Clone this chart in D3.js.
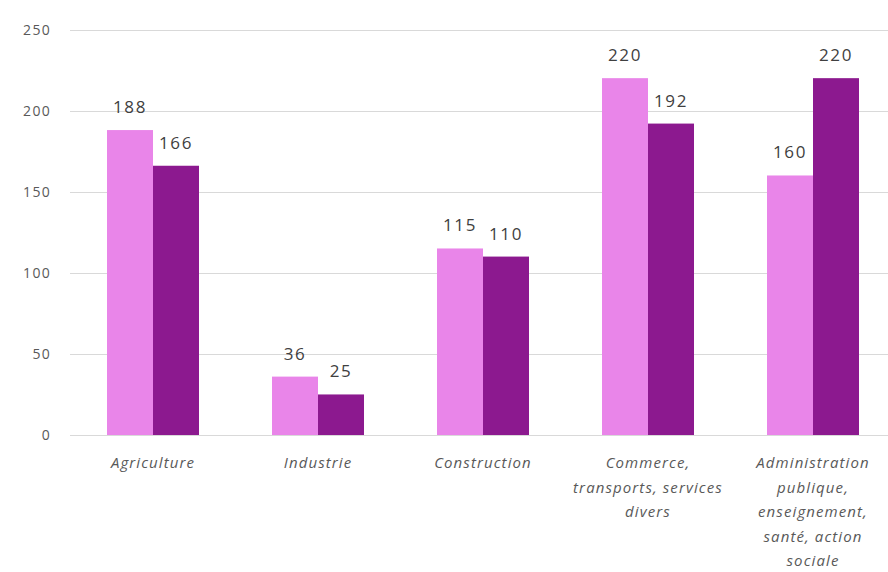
<!DOCTYPE html>
<meta charset="utf-8">
<style>
    body { margin: 0; background: #fff; }
    svg { display: block; font-family: "Open Sans", sans-serif; }
    .grid line { stroke: #d9d9d9; stroke-width: 1; }
    .ytick { fill: #595959; font-size: 14px; letter-spacing: 1.3px; }
    .vlabel { fill: #404040; font-size: 17px; letter-spacing: 1.6px; }
    .cat { fill: #595959; font-size: 15px; font-style: italic; letter-spacing: 1.1px; }
</style>
<svg width="888" height="572"></svg>
<script src="https://cdn.jsdelivr.net/npm/d3@7"></script>
<script>

var categories = ["Agriculture", "Industrie", "Construction", "Commerce", "Administration"];
var categoryLines = [
    ["Agriculture"],
    ["Industrie"],
    ["Construction"],
    ["Commerce,", "transports, services", "divers"],
    ["Administration", "publique,", "enseignement,", "santé, action", "sociale"]
];
var series1 = [188, 36, 115, 220, 160];
var series2 = [166, 25, 110, 192, 220];
var yTicks = [0, 50, 100, 150, 200, 250];
var colors = ["#e985e9", "#8c198f"];

var svg = d3.select("svg");

var x = d3.scaleBand()
    .domain(categories)
    .range([70.5, 895.5])
    .paddingInner(0.4424)
    .paddingOuter(0.2212);

var xs = d3.scaleBand()
    .domain([0, 1])
    .range([0, x.bandwidth()]);

var y = d3.scaleLinear()
    .domain([0, 250])
    .range([435, 29.5]);

// gridlines
svg.append("g")
    .attr("class", "grid")
  .selectAll("line")
    .data(yTicks)
  .enter().append("line")
    .attr("x1", 70)
    .attr("x2", 888)
    .attr("y1", function(d) { return Math.round(y(d)) + 0.5; })
    .attr("y2", function(d) { return Math.round(y(d)) + 0.5; });

// y labels
svg.append("g")
  .selectAll("text")
    .data(yTicks)
  .enter().append("text")
    .attr("class", "ytick")
    .attr("x", 51)
    .attr("y", function(d) { return y(d) + 5; })
    .attr("text-anchor", "end")
    .text(function(d) { return d; });

var rows = categories.map(function(c, i) {
    return { cat: c, vals: [series1[i], series2[i]] };
});

var groups = svg.append("g")
  .selectAll("g")
    .data(rows)
  .enter().append("g")
    .attr("transform", function(d) { return "translate(" + x(d.cat) + ",0)"; });

groups.selectAll("rect")
    .data(function(d) { return d.vals; })
  .enter().append("rect")
    .attr("x", function(d, i) { return xs(i); })
    .attr("width", xs.bandwidth())
    .attr("y", function(d) { return y(d); })
    .attr("height", function(d) { return y(0) - y(d); })
    .attr("fill", function(d, i) { return colors[i]; });

groups.selectAll("text.vlabel")
    .data(function(d) { return d.vals; })
  .enter().append("text")
    .attr("class", "vlabel")
    .attr("x", function(d, i) { return xs(i) + xs.bandwidth() / 2; })
    .attr("y", function(d) { return y(d) - 17; })
    .attr("text-anchor", "middle")
    .text(function(d) { return d; });

// category labels
svg.append("g")
  .selectAll("text")
    .data(categories)
  .enter().append("text")
    .attr("class", "cat")
    .attr("text-anchor", "middle")
    .attr("x", function(d) { return x(d) + x.bandwidth() / 2; })
    .attr("y", 468)
  .selectAll("tspan")
    .data(function(d, i) { return categoryLines[i]; })
  .enter().append("tspan")
    .attr("x", function() { var p = this.parentNode; return p.getAttribute("x"); })
    .attr("dy", function(d, i) { return i === 0 ? 0 : 24.5; })
    .text(function(d) { return d; });

</script>
